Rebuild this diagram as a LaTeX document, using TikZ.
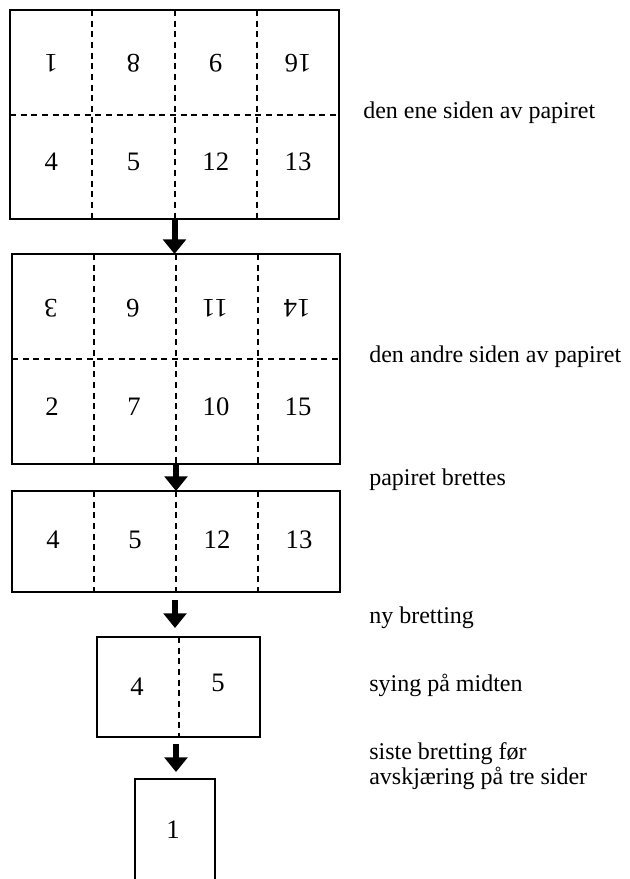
\documentclass[tikz,border=0pt]{standalone}
\usepackage{fontspec}
\setmainfont{Liberation Serif}
\usetikzlibrary{arrows.meta,calc}

\tikzset{
  sheet/.style 2 args={draw, line width=1.5pt, rectangle, inner sep=0pt, outer sep=0pt,
    minimum width=#1*0.75pt, minimum height=#2*0.75pt},
  fold/.style={line width=1.5pt, dash pattern=on 4.5pt off 3.5pt},
  pgnum/.style={font=\fontsize{20}{22}\selectfont, inner sep=0pt},
  note/.style={anchor=west, font=\fontsize{18}{19}\selectfont, inner sep=0pt, align=left},
  fallarrow/.style={line width=4.5pt, -{Triangle[width=17pt,length=11pt]}},
}

\begin{document}
\begin{tikzpicture}[x=0.75pt,y=-0.75pt]
\useasboundingbox (0,0) rectangle (629,879);
\clip (0,0) rectangle (629,879);

% sheets
\node[sheet={329}{209}] (b1) at (174.5,114.5) {};
\node[sheet={328}{210}] (b2) at (176,359) {};
\node[sheet={328}{101}] (b3) at (176,541.5) {};
\node[sheet={163}{100}] (b4) at (178.5,687) {};
\node[sheet={80}{140}] (b5) at (175,849) {};

% fold lines
\foreach \b in {b1,b2,b3}
  \foreach \f in {0.25,0.5,0.75}
    \draw[fold] ($(\b.north west)!\f!(\b.north east)$) -- ($(\b.south west)!\f!(\b.south east)$);
\foreach \b in {b1,b2}
  \draw[fold] (\b.west) -- (\b.east);
\draw[fold] (b4.north) -- (b4.south);

% page numbers
\foreach \t [count=\i] in {1,8,9,16}
  \node[pgnum, rotate=180] (b1u\i) at ($(b1.north west)+(\i*82.25-41,53)$) {\t};
\foreach \t [count=\i] in {4,5,12,13}
  \node[pgnum] (b1d\i) at ($(b1.north west)+(\i*82.25-41,152)$) {\t};
\foreach \t [count=\i] in {3,6,11,14}
  \node[pgnum, rotate=180] (b2u\i) at ($(b2.north west)+(\i*82-43,54)$) {\t};
\foreach \t [count=\i] in {2,7,10,15}
  \node[pgnum] (b2d\i) at ($(b2.north west)+(\i*82-42,153)$) {\t};
\foreach \t [count=\i] in {4,5,12,13}
  \node[pgnum] (b3n\i) at ($(b3.north west)+(\i*82-41,49)$) {\t};
\node[pgnum] (b4n1) at (137,687) {4};
\node[pgnum] (b4n2) at (218,683) {5};
\node[pgnum] (b5n1) at (173,830) {1};

% arrows
\coordinate (a3s) at (175,600);
\coordinate (a3e) at (175,628);
\coordinate (a4s) at (176,744);
\coordinate (a4e) at (176,772);
\draw[fallarrow] (b1.south) -- (b1.south |- b2.north);
\draw[fallarrow] (b3.north |- b2.south) -- (b3.north);
\draw[fallarrow] (a3s) -- (a3e);
\draw[fallarrow] (a4s) -- (a4e);

% labels
\node[note] (l1) at (363,113) {den ene siden av papiret};
\node[note] (l2) at (369,357) {den andre siden av papiret};
\node[note] (l3) at (369,480) {papiret brettes};
\node[note] (l4) at (369,618) {ny bretting};
\node[note] (l5) at (369,685) {sying på midten};
\node[note] (l6) at (369,766) {siste bretting før\\avskjæring på tre sider};
\end{tikzpicture}
\end{document}
